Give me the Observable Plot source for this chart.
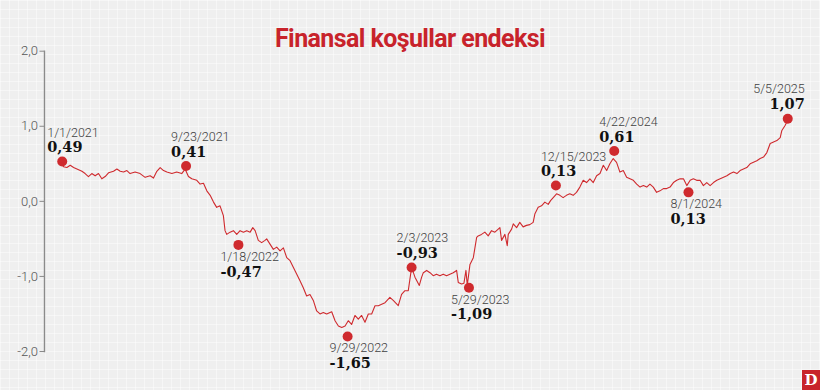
<!DOCTYPE html>
<html>
<head>
<meta charset="utf-8">
<script src="https://cdn.jsdelivr.net/npm/d3@7"></script>
<script src="https://cdn.jsdelivr.net/npm/@observablehq/plot@0.6"></script>
<style>
  html, body { margin: 0; padding: 0; }
  body {
    width: 820px; height: 390px; overflow: hidden; position: relative;
    background-color: #efefef;
    background-image:
      linear-gradient(to right, rgba(255,255,255,0.45) 1px, transparent 1px),
      linear-gradient(to bottom, rgba(255,255,255,0.45) 1px, transparent 1px);
    background-size: 9px 9px;
  }
  #title {
    position: absolute; left: 0; top: 24px; width: 820px; text-align: center;
    font-family: Roboto, sans-serif; font-weight: 700; font-size: 25px;
    letter-spacing: -0.6px; color: #c8232b; z-index: 2;
  }
  #chart { position: absolute; left: 0; top: 0; }
  #logo {
    position: absolute; right: 0; top: 370px; width: 18px; height: 20px;
    background: #c8232b; color: #fff; font-family: "DejaVu Serif", serif;
    font-weight: 700; font-size: 15px; line-height: 20px; text-align: center;
  }
</style>
</head>
<body>
<div id="title">Finansal koşullar endeksi</div>
<div id="chart"></div>
<div id="logo">D</div>
<script>
// ---- data (decimal years / index values) ----
const lineYears = [
  2021.000, 2021.008, 2021.028, 2021.048, 2021.068, 2021.088, 2021.118, 2021.137, 2021.157, 2021.177,
  2021.197, 2021.217, 2021.237, 2021.257, 2021.277, 2021.307, 2021.327, 2021.347, 2021.367, 2021.387,
  2021.406, 2021.436, 2021.466, 2021.496, 2021.526, 2021.546, 2021.566, 2021.586, 2021.606, 2021.626,
  2021.656, 2021.685, 2021.715, 2021.735, 2021.755, 2021.775, 2021.805, 2021.825, 2021.845, 2021.865,
  2021.885, 2021.905, 2021.924, 2021.944, 2021.964, 2021.974, 2021.984, 2022.004, 2022.024, 2022.044,
  2022.064, 2022.084, 2022.104, 2022.124, 2022.140, 2022.154, 2022.173, 2022.193, 2022.213, 2022.223,
  2022.243, 2022.263, 2022.283, 2022.303, 2022.323, 2022.343, 2022.363, 2022.383, 2022.403, 2022.423,
  2022.442, 2022.462, 2022.482, 2022.502, 2022.522, 2022.542, 2022.562, 2022.582, 2022.612, 2022.632,
  2022.652, 2022.672, 2022.692, 2022.711, 2022.731, 2022.751, 2022.771, 2022.791, 2022.811, 2022.831,
  2022.851, 2022.871, 2022.891, 2022.911, 2022.931, 2022.960, 2022.980, 2023.010, 2023.030, 2023.050,
  2023.070, 2023.090, 2023.110, 2023.136, 2023.150, 2023.160, 2023.180, 2023.200, 2023.219, 2023.239,
  2023.259, 2023.279, 2023.299, 2023.319, 2023.339, 2023.359, 2023.369, 2023.389, 2023.403, 2023.415,
  2023.423, 2023.439, 2023.459, 2023.479, 2023.488, 2023.508, 2023.528, 2023.548, 2023.568, 2023.588,
  2023.608, 2023.618, 2023.628, 2023.648, 2023.662, 2023.668, 2023.688, 2023.698, 2023.718, 2023.737,
  2023.757, 2023.777, 2023.797, 2023.817, 2023.827, 2023.847, 2023.867, 2023.887, 2023.907, 2023.921,
  2023.937, 2023.957, 2023.977, 2023.996, 2024.016, 2024.036, 2024.056, 2024.076, 2024.096, 2024.116,
  2024.136, 2024.156, 2024.176, 2024.196, 2024.216, 2024.236, 2024.256, 2024.275, 2024.295, 2024.315,
  2024.335, 2024.355, 2024.375, 2024.395, 2024.415, 2024.435, 2024.455, 2024.475, 2024.495, 2024.514,
  2024.534, 2024.554, 2024.574, 2024.594, 2024.614, 2024.634, 2024.654, 2024.674, 2024.694, 2024.714,
  2024.734, 2024.754, 2024.773, 2024.793, 2024.813, 2024.833, 2024.853, 2024.873, 2024.893, 2024.913,
  2024.933, 2024.953, 2024.973, 2024.993, 2025.013, 2025.033, 2025.052, 2025.072, 2025.092, 2025.112,
  2025.132, 2025.152, 2025.172, 2025.192, 2025.212, 2025.232, 2025.252, 2025.272, 2025.292, 2025.301,
  2025.321, 2025.337
];
const lineValues = [
   0.50,  0.46,  0.45,  0.48,  0.45,  0.43,  0.40,  0.37,  0.33,  0.37,
   0.34,  0.37,  0.30,  0.33,  0.38,  0.40,  0.43,  0.40,  0.39,  0.41,
   0.37,  0.39,  0.37,  0.32,  0.34,  0.31,  0.40,  0.45,  0.41,  0.39,
   0.37,  0.39,  0.37,  0.43,  0.33,  0.30,  0.28,  0.23,  0.24,  0.14,
   0.08, -0.01, -0.08, -0.06, -0.19, -0.39, -0.44, -0.41, -0.39, -0.44,
  -0.39, -0.41, -0.39, -0.41, -0.35, -0.39, -0.52, -0.55, -0.52, -0.50,
  -0.57, -0.64, -0.61, -0.66, -0.62, -0.75, -0.79, -0.88, -0.97, -1.06,
  -1.15, -1.26, -1.24, -1.32, -1.46, -1.50, -1.48, -1.50, -1.47, -1.59,
  -1.66, -1.68, -1.66, -1.59, -1.64, -1.52, -1.57, -1.52, -1.61, -1.50,
  -1.50, -1.39, -1.39, -1.37, -1.35, -1.28, -1.32, -1.39, -1.24, -1.19,
  -1.19, -0.88, -1.01, -1.12, -1.01, -0.95, -0.92, -0.95, -0.99, -0.97,
  -0.99, -0.97, -0.99, -0.97, -0.95, -0.92, -1.08, -1.10, -1.09, -0.92,
  -1.12, -0.84, -0.75, -0.48, -0.46, -0.44, -0.41, -0.46, -0.39, -0.41,
  -0.37, -0.35, -0.52, -0.44, -0.59, -0.44, -0.37, -0.30, -0.35, -0.28,
  -0.34, -0.32, -0.31, -0.28, -0.17, -0.08, -0.06, -0.01, -0.04,  0.01,
   0.05,  0.10,  0.08,  0.05,  0.08,  0.10,  0.08,  0.12,  0.19,  0.28,
   0.25,  0.30,  0.25,  0.34,  0.37,  0.48,  0.41,  0.50,  0.57,  0.52,
   0.39,  0.41,  0.32,  0.30,  0.28,  0.23,  0.19,  0.21,  0.19,  0.23,
   0.19,  0.12,  0.14,  0.17,  0.17,  0.19,  0.25,  0.28,  0.30,  0.30,
   0.21,  0.28,  0.30,  0.28,  0.28,  0.21,  0.25,  0.21,  0.25,  0.28,
   0.30,  0.32,  0.34,  0.37,  0.39,  0.37,  0.41,  0.43,  0.45,  0.50,
   0.52,  0.54,  0.57,  0.59,  0.65,  0.77,  0.79,  0.81,  0.85,  0.94,
   1.01,  1.08
];

// highlighted points
const pointYears  = [2021.000, 2021.741, 2022.054, 2022.707, 2023.090, 2023.433, 2023.953, 2024.301, 2024.744, 2025.337];
const pointValues = [0.53, 0.47, -0.58, -1.80, -0.88, -1.15, 0.21, 0.67, 0.12, 1.10];
const dateLabels  = ["1/1/2021", "9/23/2021", "1/18/2022", "9/29/2022", "2/3/2023", "5/29/2023", "12/15/2023", "4/22/2024", "8/1/2024", "5/5/2025"];
const valueLabels = ["0,49", "0,41", "-0,47", "-1,65", "-0,93", "-1,09", "0,13", "0,61", "0,13", "1,07"];
const labelSide   = ["above", "above", "below", "below", "above", "below", "above", "above", "below", "above"];

const yTicks = [-2, -1, 0, 1, 2];
const startDate = new Date(Date.UTC(2021, 0, 1));
const endDate = new Date(Date.UTC(2025, 4, 5));

// ---- helpers ----
const yearToDate = y => {
  const Y = Math.floor(y);
  const s = Date.UTC(Y, 0, 1), e = Date.UTC(Y + 1, 0, 1);
  return new Date(s + (y - Y) * (e - s));
};
const series = lineYears.map((y, i) => ({date: yearToDate(y), value: lineValues[i]}));
const points = pointYears.map((y, i) => ({
  date: yearToDate(y), value: pointValues[i],
  dateLabel: dateLabels[i], valueLabel: valueLabels[i],
  side: labelSide[i], last: i === pointYears.length - 1
}));
const above = points.filter(d => d.side === "above" && !d.last);
const below = points.filter(d => d.side === "below");
const lastP = points.filter(d => d.last);

const red = "#cf2a2e";
const dateFont = {fontFamily: "Roboto, sans-serif", fontWeight: 300, fontSize: 12.5, fill: "#3f3f3f"};
const valFont = {fontFamily: "'DejaVu Serif', serif", fontWeight: 700, fontSize: 14.5, fill: "#111"};

const chart = Plot.plot({
  width: 820,
  height: 390,
  marginLeft: 44,
  marginTop: 50.7,
  marginBottom: 39,
  marginRight: 32,
  style: {background: "transparent", overflow: "visible"},
  x: {type: "utc", domain: [startDate, endDate], range: [61.7, 787.7], axis: null},
  y: {domain: [-2, 2], range: [351, 50.7]},
  marks: [
    Plot.frame({anchor: "left", stroke: "#8a8a8a", strokeWidth: 1.4}),
    Plot.axisY({
      ticks: yTicks, tickSize: 4.5, tickPadding: 2, stroke: "#8a8a8a",
      tickFormat: d => d.toFixed(1).replace(".", ","),
      fontFamily: "Roboto, sans-serif", fontWeight: 300, fontSize: 13, fill: "#555",
      label: null
    }),
    Plot.lineY(series, {x: "date", y: "value", stroke: red, strokeWidth: 1.1}),
    Plot.dot(points, {x: "date", y: "value", r: 5, fill: red, stroke: "none"}),
    // above labels
    Plot.text(above, {x: "date", y: "value", text: "dateLabel", textAnchor: "start", dx: -15, dy: -29, ...dateFont}),
    Plot.text(above, {x: "date", y: "value", text: "valueLabel", textAnchor: "start", dx: -15, dy: -14, ...valFont}),
    // below labels
    Plot.text(below, {x: "date", y: "value", text: "dateLabel", textAnchor: "start", dx: -18, dy: 12, ...dateFont}),
    Plot.text(below, {x: "date", y: "value", text: "valueLabel", textAnchor: "start", dx: -18, dy: 27, ...valFont}),
    // last point labels (right aligned)
    Plot.text(lastP, {x: "date", y: "value", text: "dateLabel", textAnchor: "end", dx: 17, dy: -30, ...dateFont}),
    Plot.text(lastP, {x: "date", y: "value", text: "valueLabel", textAnchor: "end", dx: 17, dy: -14, ...valFont})
  ]
});
document.getElementById("chart").appendChild(chart);
</script>
</body>
</html>
